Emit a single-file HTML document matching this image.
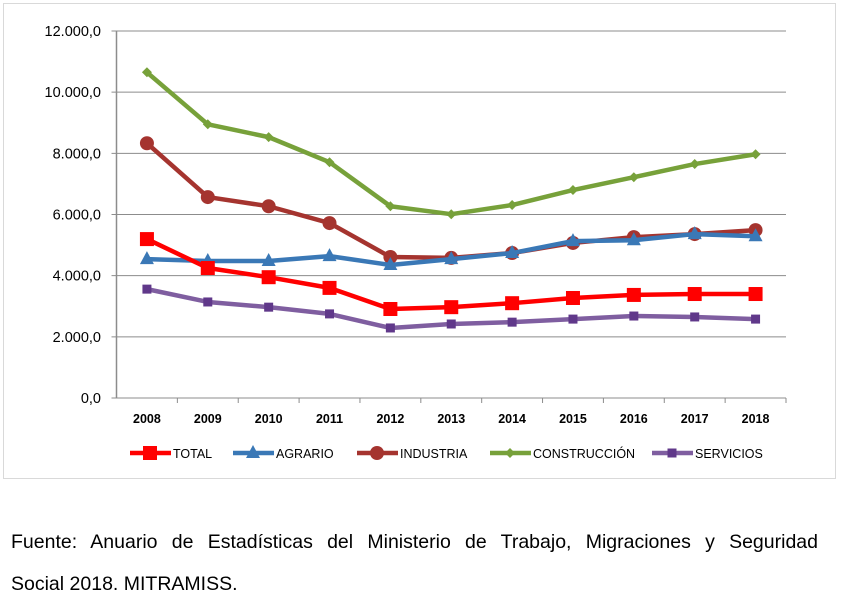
<!DOCTYPE html>
<html><head><meta charset="utf-8">
<style>
body{margin:0;background:#fff;width:847px;height:602px;overflow:hidden;font-family:"Liberation Sans",sans-serif;}
#frame{position:absolute;left:3px;top:3px;width:831px;height:474px;border:1px solid #d9d9d9;}
#note{position:absolute;left:11px;top:521px;width:807px;font-size:19.5px;line-height:42px;color:#000;white-space:nowrap;}
#note .l1{text-align:justify;text-align-last:justify;white-space:normal;}
</style></head><body>
<div id="frame"></div>
<svg id="chart" width="847" height="602" style="position:absolute;left:0;top:0"></svg>
<div id="note"><div class="l1">Fuente: Anuario de Estadísticas del Ministerio de Trabajo, Migraciones y Seguridad</div><div>Social 2018. MITRAMISS.</div></div>
<script>
const years=["2008","2009","2010","2011","2012","2013","2014","2015","2016","2017","2018"];
const total=[5196,4250,3950,3600,2910,2970,3100,3270,3370,3400,3400];
const agrario=[4540,4480,4480,4640,4350,4540,4740,5130,5160,5360,5290];
const industria=[8330,6570,6270,5720,4610,4580,4740,5070,5260,5360,5490];
const construccion=[10650,8950,8530,7710,6270,6010,6310,6800,7220,7650,7970];
const servicios=[3560,3140,2970,2750,2290,2420,2480,2580,2680,2650,2580];
const yTicks=[0,2000,4000,6000,8000,10000,12000];
const yTickLabels=["0,0","2.000,0","4.000,0","6.000,0","8.000,0","10.000,0","12.000,0"];
const seriesNames=["TOTAL","AGRARIO","INDUSTRIA","CONSTRUCCIÓN","SERVICIOS"];

const NS="http://www.w3.org/2000/svg";
const svg=document.getElementById('chart');
const X0=116.5,X1=786,Y0=398,Y1=31,YMAX=12000;
const bw=(X1-X0)/years.length;
const xs=i=>X0+bw*(i+0.5);
const ys=v=>Y0-(v/YMAX)*(Y0-Y1);
function mk(tag,attrs){const e=document.createElementNS(NS,tag);for(const k in attrs)e.setAttribute(k,attrs[k]);svg.appendChild(e);return e;}

yTicks.forEach((t,i)=>{
  const g=mk('line',{x1:X0-5,x2:X1,y1:ys(t),y2:ys(t),stroke:'#8c8c8c','stroke-width':1});
  
  
  const tx=mk('text',{x:101,y:ys(t)+5,'text-anchor':'end','font-size':14.5,fill:'#000'});
  tx.textContent=yTickLabels[i];
  
  
});
const ax=mk('line',{x1:X0,x2:X0,y1:Y1,y2:Y0,stroke:'#8c8c8c','stroke-width':1.5});


years.forEach((y,i)=>{
  const tk=mk('line',{x1:X0+bw*(i+1),x2:X0+bw*(i+1),y1:Y0,y2:Y0+5,stroke:'#8c8c8c'});
  
  
  const tx=mk('text',{x:xs(i),y:423,'text-anchor':'middle','font-size':12.5,'font-weight':'bold',fill:'#000'});
  tx.textContent=y;
  
  
});

function marker(type,x,y,color,big){
  let e;
  if(type==='sq'){const s=big?14:9;e=mk('rect',{x:x-s/2,y:y-s/2,width:s,height:s,fill:color});}
  else if(type==='tri'){e=mk('polygon',{points:`${x},${y-8} ${x+7},${y+5} ${x-7},${y+5}`,fill:color});}
  else if(type==='circ'){e=mk('circle',{cx:x,cy:y,r:7,fill:color});}
  else {e=mk('polygon',{points:`${x},${y-5} ${x+5},${y} ${x},${y+5} ${x-5},${y}`,fill:color});}
  return e;
}
const series=[
 [construccion,'#77a13a','dia','construccion'],
 [industria,'#a5342f','circ','industria'],
 [agrario,'#3a78b6','tri','agrario'],
 [servicios,'#7f5ea0','sq','servicios'],
 [total,'#ff0000','sq','total']];
series.forEach(([d,c,m,n])=>{
  const p=mk('polyline',{points:d.map((v,i)=>xs(i)+','+ys(v)).join(' '),fill:'none',stroke:c,'stroke-width':4.5,'stroke-linejoin':'round'});
  
  
  d.forEach((v,i)=>{
    const e=marker(m,xs(i),ys(v),n==='servicios'?'#60388a':c,n==='total');
    
    
  });
});

const leg=[[130,'#ff0000','sq'],[233,'#3a78b6','tri'],[357,'#a5342f','circ'],[490,'#77a13a','dia'],[652,'#7f5ea0','sq']];
leg.forEach(([x,c,m],i)=>{
  const l=mk('line',{x1:x,x2:x+41,y1:453,y2:453,stroke:c,'stroke-width':4.5});
  
  
  const e=marker(m,x+20,453,i===4?'#60388a':c,i===0);
  
  
  const t=mk('text',{x:x+43,y:458,'font-size':12.5,fill:'#000'});
  t.textContent=seriesNames[i];
  
  
});
</script>
</body></html>
